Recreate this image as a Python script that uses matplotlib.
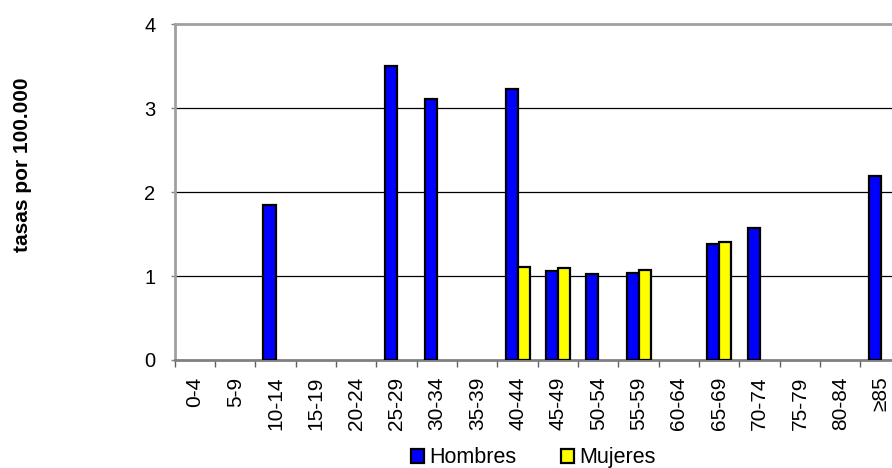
import numpy as np
import matplotlib
matplotlib.use("Agg")
import matplotlib.pyplot as plt
from matplotlib.patches import Patch

# age groups and rates per 100.000
grupos = ["0-4", "5-9", "10-14", "15-19", "20-24", "25-29", "30-34", "35-39",
          "40-44", "45-49", "50-54", "55-59", "60-64", "65-69", "70-74",
          "75-79", "80-84", "\u226585"]
hombres = [0, 0, 1.85, 0, 0, 3.50, 3.11, 0, 3.23, 1.06, 1.03, 1.04, 0,
           1.385, 1.575, 0, 0, 2.19]
mujeres = [0, 0, 0, 0, 0, 0, 0, 0, 1.11, 1.095, 0, 1.07, 0, 1.40, 0, 0, 0, 0]

plt.rcParams["font.family"] = ["Liberation Sans", "DejaVu Sans"]

fig = plt.figure(figsize=(8.92, 4.68), dpi=100)
ax = fig.add_axes([0.1959, 0.2308, 0.814, 0.7173])

x = np.arange(len(grupos))
h = np.array(hombres)
m = np.array(mujeres)
w = 0.3
ax.bar(x[h > 0] - w / 2, h[h > 0], w, color="#0000ff", edgecolor="black",
       linewidth=1.6, zorder=3)
ax.bar(x[m > 0] + w / 2, m[m > 0], w, color="#ffff00", edgecolor="black",
       linewidth=1.6, zorder=3)

ax.set_xlim(-0.5, len(grupos) - 0.5)
ax.set_ylim(0, 4)
ax.set_yticks([0, 1, 2, 3, 4])
ax.set_yticklabels(["0", "1", "2", "3", "4"], fontsize=14.5)
ax.tick_params(axis="y", length=3, width=1, color="#808080", pad=11)
for yv in [1, 2, 3]:
    ax.axhline(yv, color="black", lw=0.9, zorder=1)

ax.set_xticks(x)
ax.set_xticklabels(grupos, rotation=90, fontsize=15)
ax.tick_params(axis="x", which="major", length=0, pad=12)
ax.set_xticks(np.arange(len(grupos) + 1) - 0.5, minor=True)
ax.tick_params(axis="x", which="minor", length=5, width=1, color="#606060")

for side in ["left", "top", "bottom"]:
    ax.spines[side].set_color("#a0a0a0")
    ax.spines[side].set_linewidth(2)
ax.spines["bottom"].set_color("#808080")
ax.spines["right"].set_visible(False)

fig.text(0.025, 0.647, "tasas por 100.000", rotation=90, fontsize=15,
         fontweight="bold", ha="center", va="center")

handles = [Patch(facecolor="#0000ff", edgecolor="black", linewidth=1.6),
           Patch(facecolor="#ffff00", edgecolor="black", linewidth=1.6)]
fig.legend(handles, ["Hombres", "Mujeres"], ncol=2, frameon=False,
           loc="center", bbox_to_anchor=(0.598, 0.0214), fontsize=15.5,
           handlelength=0.6, handleheight=0.6, handletextpad=0.25,
           columnspacing=2.1, borderpad=0)

fig.savefig("out.png", dpi=100)
